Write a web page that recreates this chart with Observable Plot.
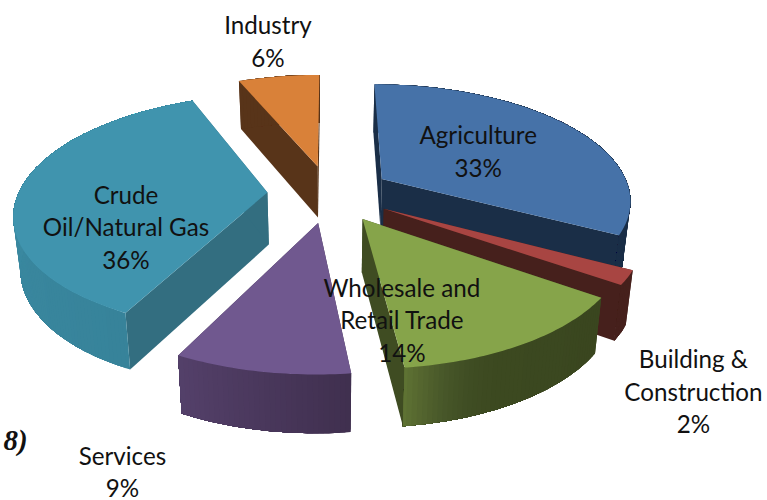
<!DOCTYPE html>
<html><head><meta charset="utf-8">
<style>html,body{margin:0;padding:0;background:#fff}svg{display:block}</style>
<script src="https://cdn.jsdelivr.net/npm/d3@7"></script>
<script src="https://cdn.jsdelivr.net/npm/@observablehq/plot@0.6"></script>
</head><body><script>
const categories = ["Agriculture","Building & Construction","Wholesale and Retail Trade","Services","Crude Oil/Natural Gas","Industry"];
const shares = [32.8,1.9,13.5,9.2,36.3,6.3];
const labelLines = [["Agriculture"],["Building &","Construction"],["Wholesale and","Retail Trade"],["Services"],["Crude","Oil/Natural Gas"],["Industry"]];
const topColors = ["#4672A8","#A84542","#86A44A","#70588F","#4094AE","#D98139"];
const radialColors = ["#1A2E47","#46201C","#3F4C22","#40304F","#336E80","#583419"];
const wallStops = [["#1A2E47","#1A2E47"],["#46201C","#46201C"],["#3A461F","#3A461F","#3B4820","#3B4820","#3C4920","#3D4A21","#48572A","#5E7233"],["#40304F","#54406A"],["#37839A","#3F90A8"],["#583419","#583419"]];
const paintOrder = [5,0,4,1,3,2];
const labelNudgeX = [-20.5,169,-51,-164,7,-25];
const labelNudgeY = [3.5,141.5,29.5,165,35.5,-69.5];

const W=767,H=500,CX=329,CY=193,RX=249,RY=115,K=0.167,EXPLODE=0.25;
const total=d3.sum(shares);
let acc=0;
const slices=shares.map((v,i)=>{const a0=acc/total*2*Math.PI;acc+=v;const a1=acc/total*2*Math.PI;return{i,a0,a1,b:(a0+a1)/2};});
function project(a,r,b,e){
  const X=r*Math.sin(a)+e*Math.sin(b),Y=r*Math.cos(a)+e*Math.cos(b),s=1/(1+K*Y);
  return [CX+RX*X*s,CY-RY*Y*s];
}
const bottom=([x,y])=>[CX+0.977*(x-CX),y*1.037+45];
const polys=[];
function add(id,color,pts){
  [...pts,pts[0]].forEach(p=>polys.push({id,color,x:p[0],y:p[1]}));
}
const STEP=Math.PI/180;
for(const k of paintOrder){
  const s=slices[k],apex=project(0,0,s.b,EXPLODE);
  const rim=[];
  for(let a=s.a0;a<s.a1;a+=STEP) rim.push(project(a,1,s.b,EXPLODE));
  rim.push(project(s.a1,1,s.b,EXPLODE));
  const first=rim[0],last=rim[rim.length-1];
  add(`r0${k}`,radialColors[k],[apex,first,bottom(first),bottom(apex)]);
  add(`r1${k}`,radialColors[k],[apex,last,bottom(last),bottom(apex)]);
  const shade=d3.interpolateRgbBasis(wallStops[k]);
  // each wall band runs from its own angle to the slice's end, so later bands overlap earlier ones without seams
  for(let j=0;j<rim.length-1;j++){
    const rest=rim.slice(j);
    add(`w${k}_${j}`,d3.rgb(shade(j/(rim.length-2||1))).formatHex(),[...rest,...rest.map(bottom).reverse()]);
  }
  add(`t${k}`,topColors[k],[apex,...rim]);
}
const labels=slices.map((s,i)=>{
  const [x,y]=project(s.b,0.6,s.b,EXPLODE);
  return {x:x+labelNudgeX[i],y:y+labelNudgeY[i],text:[...labelLines[i],Math.round(shares[i])+"%"].join("\n")};
});
const stray=[{x:15,y:440,text:"8)"}];
const chart=Plot.plot({
  width:W,height:H,margin:0,
  x:{domain:[0,W],range:[0,W],axis:null},
  y:{domain:[0,H],range:[0,H],axis:null},
  color:{type:"identity"},
  marks:[
    Plot.line(polys,{x:"x",y:"y",z:"id",fill:"color",stroke:"none",curve:"linear"}),
    Plot.text(labels,{x:"x",y:"y",text:"text",fontFamily:"Lato",fontSize:24.2,lineHeight:1.343,fill:"#111",textAnchor:"middle",lineAnchor:"middle"}),
    Plot.text(stray,{x:"x",y:"y",text:"text",fontFamily:"Liberation Serif",fontWeight:"bold",fontStyle:"italic",fontSize:29,fill:"#111"})
  ]
});
chart.style.background="#fff";
document.body.appendChild(chart);
</script></body></html>
